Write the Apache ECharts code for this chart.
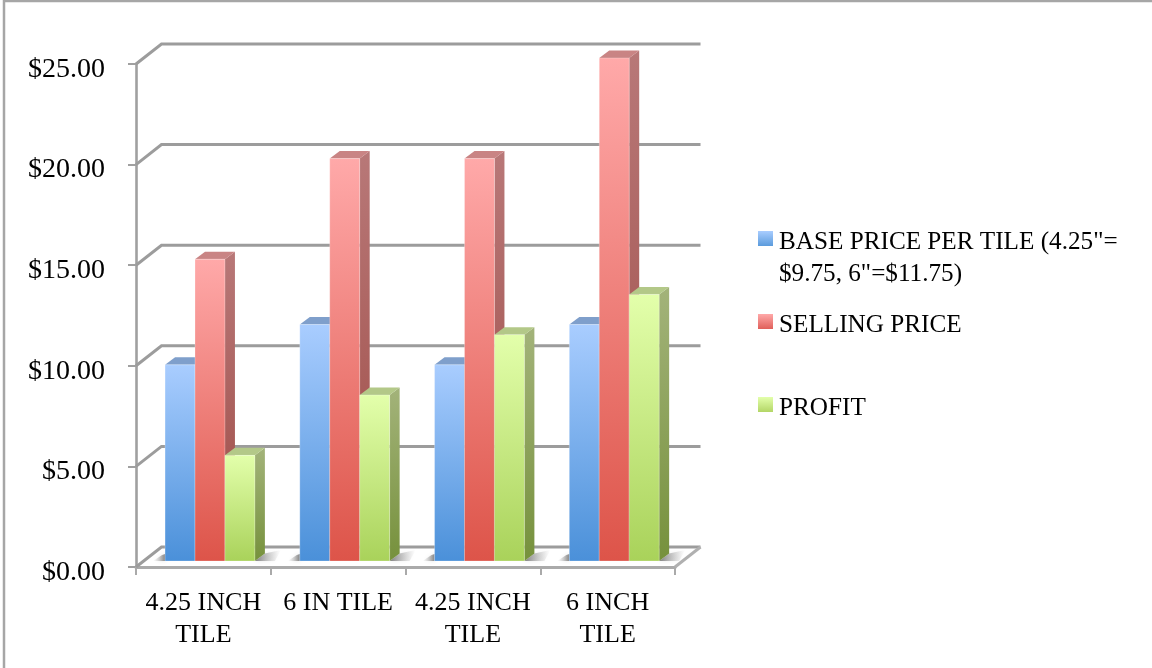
<!DOCTYPE html>
<html><head><meta charset="utf-8">
<style>html,body{margin:0;padding:0;background:#fff}#c{width:1152px;height:668px}</style>
<script src="https://cdn.jsdelivr.net/npm/echarts@6/dist/echarts.min.js"></script>
</head><body><div id="c"></div>
<script>
const categories = ['4.25 INCH\nTILE', '6 IN TILE', '4.25 INCH\nTILE', '6 INCH\nTILE'];
const basePrice = [9.75, 11.75, 9.75, 11.75];
const sellingPrice = [15, 20, 20, 25];
const profit = [5.25, 8.25, 11.25, 13.25];
const gridValues = [0, 5, 10, 15, 20, 25];
const seriesNames = ['BASE PRICE PER TILE (4.25"=\n$9.75, 6"=$11.75)', 'SELLING PRICE', 'PROFIT'];

const FONT = '"Liberation Serif"';
const lg = (a, b) => ({type:'linear', x:0, y:0, x2:0, y2:1, colorStops:[{offset:0,color:a},{offset:1,color:b}]});
const hg = (a, b) => ({type:'linear', x:0, y:0, x2:1, y2:0, colorStops:[{offset:0,color:a},{offset:1,color:b}]});
const clearBelow = (a, b, at) => ({type:'linear', x:0, y:0, x2:0, y2:1, colorStops:[
  {offset:0,color:a},{offset:at,color:b},{offset:at+0.005,color:'rgba(0,0,0,0)'},{offset:1,color:'rgba(0,0,0,0)'}]});
const palettes = [
  {front:['#a9cdff','#4a90d9'], side:['#7e9bc4','#3f6f9e'], top:'#7f9fcb'},
  {front:['#ffa9a9','#dd5449'], side:['#b87878','#9e4a44'], top:'#c98484'},
  {front:['#e3ffab','#a9d25a'], side:['#a3b37a','#76913c'], top:'#b3c888'}
];
const WALL = {dx:25.5, dy:-20};
const PLANE = {dx:6.6, dy:-6};
const DEPTH = {dx:10, dy:-7.5};
const GRID_COLOR = '#9c9c9c';

function wallItem(params, api) {
  const v = api.value(0);
  const cs = params.coordSys;
  const y = api.coord([0, v])[1];
  const left = cs.x, right = cs.x + cs.width;
  const kids = [{
    type:'polyline',
    shape:{points:[[left,y],[left+WALL.dx,y+WALL.dy],[right+WALL.dx,y+WALL.dy]]},
    style:{stroke:GRID_COLOR, lineWidth:3, fill:null}
  }];
  if (v === 0) kids.push({
    type:'line',
    shape:{x1:right,y1:y,x2:right+WALL.dx,y2:y+WALL.dy},
    style:{stroke:'#b0b0b0', lineWidth:3}
  });
  return {type:'group', children:kids};
}

function shadowItem(params, api) {
  const c = api.coord([api.value(0), 0]);
  const w = api.size([1,0])[0] / 4.5;
  const y = c[1] + PLANE.dy;
  const x0 = c[0] - 1.5*w + PLANE.dx, x1 = c[0] + 1.5*w + PLANE.dx;
  return {type:'group', children:[
    {type:'polygon', shape:{points:[[x1,y],[x1+10,y-7.5],[x1+26,y-11],[x1+20,y]]},
     style:{fill:hg('rgba(95,95,95,0.8)','rgba(170,170,170,0)'), shadowBlur:4, shadowColor:'rgba(150,150,150,0.35)'}},
    {type:'polygon', shape:{points:[[x0-12,y],[x0,y],[x0,y-7],[x0-3,y-6]]},
     style:{fill:hg('rgba(170,170,170,0)','rgba(95,95,95,0.75)'), shadowBlur:4, shadowColor:'rgba(150,150,150,0.35)'}}
  ]};
}

function barItem(i) {
  return function (params, api) {
    const cat = api.value(0), val = api.value(1);
    const top = api.coord([cat, val]);
    const base = api.coord([cat, 0]);
    const w = api.size([1,0])[0] / 4.5;
    const x = top[0] + (i-1.5)*w + PLANE.dx;
    const yT = top[1] + PLANE.dy, yB = base[1] + PLANE.dy;
    const p = palettes[i];
    const d = DEPTH;
    return {type:'group', children:[
      {type:'polygon', shape:{points:[[x+w,yT],[x+w+d.dx,yT+d.dy],[x+w+d.dx,yB+d.dy],[x+w,yB]]},
       style:{fill:lg(p.side[0],p.side[1])}},
      {type:'polygon', shape:{points:[[x,yT],[x+d.dx,yT+d.dy],[x+w+d.dx,yT+d.dy],[x+w,yT]]},
       style:{fill:p.top}},
      {type:'rect', shape:{x:x,y:yT,width:w,height:yB-yT},
       style:{fill:lg(p.front[0],p.front[1]), stroke:'rgba(255,255,255,0.25)', lineWidth:1}}
    ]};
  };
}

const valuesBySeries = [basePrice, sellingPrice, profit];
const barSeries = valuesBySeries.map((vals,i)=>({
  type:'custom', name:seriesNames[i], coordinateSystem:'cartesian2d', z:4,
  renderItem:barItem(i), itemStyle:{color:palettes[i].front[1]},
  encode:{x:0,y:1}, data:vals.map((v,k)=>[k,v]), clip:false, silent:true
}));

const legendBase = {
  orient:'vertical', left:758, itemWidth:15, selectedMode:false, padding:0, itemGap:0,
  textStyle:{fontFamily:FONT, fontSize:25.2, color:'#000', lineHeight:32, padding:[0,0,0,1]}
};
const chart = echarts.init(document.getElementById('c'), null, {renderer:'canvas'});
chart.setOption({
  animation:false,
  backgroundColor:'#fff',
  grid:{left:136, top:64, width:539, height:503},
  xAxis:{
    type:'category', data:categories,
    axisLine:{lineStyle:{color:'#aaaaaa', width:3}},
    axisTick:{show:true, length:8, lineStyle:{color:'#aaaaaa', width:2}, alignWithLabel:false},
    axisLabel:{fontFamily:FONT, fontSize:26, color:'#000', lineHeight:32, margin:20, interval:0},
    splitLine:{show:false}
  },
  yAxis:{
    type:'value', min:0, max:25, interval:5,
    axisLine:{show:true, lineStyle:{color:'#a0a0a0', width:2.6}},
    axisTick:{show:true, length:8, lineStyle:{color:'#a0a0a0', width:2}},
    axisLabel:{fontFamily:FONT, fontSize:28, color:'#000', margin:31, verticalAlign:'top', lineHeight:11, formatter:v=>'$'+v.toFixed(2)},
    splitLine:{show:false}
  },
  legend:[
    Object.assign({}, legendBase, {top:226, itemHeight:54, data:[{
      name:seriesNames[0],
      icon:'path://M0 0H15V15H0Z M0 54L0 54Z',
      itemStyle:{color:clearBelow('#a9cdff','#5b9bdc',0.278)}
    }]}),
    Object.assign({}, legendBase, {top:309.5, itemHeight:23, data:[{name:seriesNames[1],
      icon:'path://M0 0H15V15H0Z M0 23L0 23Z',
      itemStyle:{color:clearBelow('#ffa9a9','#e0605a',0.652)}}]}),
    Object.assign({}, legendBase, {top:392.5, itemHeight:23, data:[{name:seriesNames[2],
      icon:'path://M0 0H15V15H0Z M0 23L0 23Z',
      itemStyle:{color:clearBelow('#e3ffab','#b3d666',0.652)}}]})
  ],
  graphic:[
    {type:'line', silent:true, shape:{x1:4,y1:1,x2:1152,y2:1}, style:{stroke:'#a6a6a6', lineWidth:2.5}},
    {type:'line', silent:true, shape:{x1:4,y1:0,x2:4,y2:668}, style:{stroke:'#a6a6a6', lineWidth:2.5}}
  ],
  series:[
    {type:'custom', coordinateSystem:'cartesian2d', z:1, renderItem:wallItem, encode:{y:0}, data:gridValues.map(v=>[v]), clip:false, silent:true},
    {type:'custom', coordinateSystem:'cartesian2d', z:2, renderItem:shadowItem, encode:{x:0}, data:categories.map((c,k)=>[k]), clip:false, silent:true}
  ].concat(barSeries)
});
</script></body></html>
